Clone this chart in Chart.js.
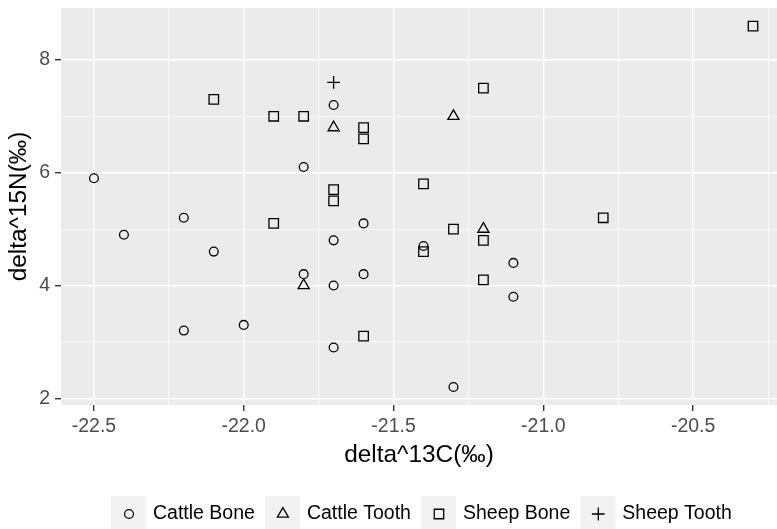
<!DOCTYPE html>
<html>
<head>
<meta charset="utf-8">
<script src="https://cdn.jsdelivr.net/npm/chart.js@4"></script>
<style>
  html, body { margin: 0; padding: 0; background: #fff; }
  #wrap { width: 777px; height: 529px; }
</style>
</head>
<body>
<div id="wrap"><canvas id="isoChart" width="777" height="529"></canvas></div>
<script>
// values
const cattleBoneX = [-22.5, -22.4, -22.2, -22.1, -22.2, -22.0, -21.8, -21.8, -21.7, -21.7, -21.7, -21.7, -21.6, -21.6, -21.4, -21.3, -21.1, -21.1];
const cattleBoneY = [5.9, 4.9, 5.2, 4.6, 3.2, 3.3, 6.1, 4.2, 7.2, 4.8, 4.0, 2.9, 5.1, 4.2, 4.7, 2.2, 4.4, 3.8];
const cattleToothX = [-21.7, -21.3, -21.2, -21.8];
const cattleToothY = [6.8, 7.0, 5.0, 4.0];
const sheepBoneX = [-22.1, -21.9, -21.8, -21.6, -21.6, -21.7, -21.7, -21.9, -21.4, -21.4, -21.3, -21.2, -21.2, -21.6, -20.8, -20.3, -21.2];
const sheepBoneY = [7.3, 7.0, 7.0, 6.8, 6.6, 5.7, 5.5, 5.1, 5.8, 4.6, 5.0, 4.8, 4.1, 3.1, 5.2, 8.6, 7.5];
const sheepToothX = [-21.7];
const sheepToothY = [7.6];

const groupNames = ['Cattle Bone', 'Cattle Tooth', 'Sheep Bone', 'Sheep Tooth'];

const xMajor = [-22.5, -22.0, -21.5, -21.0, -20.5];
const xMinor = [-22.25, -21.75, -21.25, -20.75, -20.25];
const yMajor = [2, 4, 6, 8];
const yMinor = [3, 5, 7];

const FONT = '"Liberation Sans", Arial, Helvetica, sans-serif';
const TEXT_SIZE = 19.5;
const TITLE_SIZE = 24.4;

function toPoints(xs, ys) {
    return xs.map((x, i) => ({ x: x, y: ys[i] }));
}

const shapes = [
    { style: 'circle', radius: 4.4 },
    { style: 'triangle', radius: 6.4 },
    { style: 'rect', radius: 6.7 },
    { style: 'cross', radius: 6.4 },
];

const seriesPoints = [
    toPoints(cattleBoneX, cattleBoneY),
    toPoints(cattleToothX, cattleToothY),
    toPoints(sheepBoneX, sheepBoneY),
    toPoints(sheepToothX, sheepToothY),
];

const datasets = groupNames.map((name, i) => ({
    label: name,
    data: seriesPoints[i],
    pointStyle: shapes[i].style,
    pointRadius: shapes[i].radius,
    pointHoverRadius: shapes[i].radius,
    pointBorderWidth: 1.3,
    pointBorderColor: '#000000',
    pointBackgroundColor: 'rgba(0,0,0,0)',
    showLine: false,
}));

function isMajor(list, v) {
    return list.some(m => Math.abs(m - v) < 1e-6);
}

function noPadding(axis) {
    axis.paddingTop = 0;
    axis.paddingBottom = 0;
    axis.paddingLeft = 0;
    axis.paddingRight = 0;
}

// grey panel behind the grid
const panelBg = {
    id: 'panelBg',
    beforeDraw(chart) {
        const { ctx, chartArea: a } = chart;
        ctx.save();
        ctx.fillStyle = '#EBEBEB';
        ctx.fillRect(a.left, a.top, a.right - a.left, a.bottom - a.top);
        ctx.restore();
    }
};

// ggplot style legend with grey key boxes
const keyLegend = {
    id: 'keyLegend',
    afterDraw(chart) {
        const ctx = chart.ctx;
        ctx.save();
        ctx.font = TEXT_SIZE + 'px ' + FONT;
        ctx.textBaseline = 'middle';
        const keySize = 36;
        const top = 496;
        const cy = top + keySize / 2;
        let x = 111;
        groupNames.forEach((name, i) => {
            ctx.fillStyle = '#F2F2F2';
            ctx.fillRect(x, top, keySize - 1, keySize);
            ctx.strokeStyle = '#000000';
            ctx.lineWidth = 1.3;
            Chart.helpers.drawPoint(ctx, { pointStyle: shapes[i].style, radius: shapes[i].radius, borderWidth: 1.3 }, x + keySize / 2, cy);
            ctx.fillStyle = '#000000';
            ctx.fillText(name, x + keySize + 6, cy);
            x += keySize + 6 + ctx.measureText(name).width + 10;
        });
        ctx.restore();
    }
};

const ctx = document.getElementById('isoChart').getContext('2d');
const isoChart = new Chart(ctx, {
    type: 'scatter',
    data: { datasets: datasets },
    plugins: [panelBg, keyLegend],
    options: {
        responsive: false,
        animation: false,
        devicePixelRatio: 1,
        layout: { autoPadding: false, padding: { left: 0, right: 0, top: 8, bottom: 56 } },
        plugins: {
            legend: { display: false },
            tooltip: { enabled: false },
        },
        scales: {
            x: {
                type: 'linear',
                min: -22.61,
                max: -20.22,
                afterBuildTicks(axis) {
                    axis.ticks = xMajor.concat(xMinor).sort((a, b) => a - b).map(v => ({ value: v }));
                },
                afterFit(axis) { axis.height = 68; noPadding(axis); },
                border: { display: false },
                grid: {
                    color: '#FFFFFF',
                    lineWidth: c => isMajor(xMajor, c.tick.value) ? 1.4 : 0.7,
                    tickColor: c => isMajor(xMajor, c.tick.value) ? '#333333' : 'rgba(0,0,0,0)',
                    tickWidth: 1.4,
                    tickLength: 6,
                },
                ticks: {
                    autoSkip: false,
                    maxRotation: 0,
                    padding: 4,
                    color: '#4D4D4D',
                    font: { family: FONT, size: TEXT_SIZE },
                    callback: v => isMajor(xMajor, v) ? v.toFixed(1) : '',
                },
                title: {
                    display: true,
                    text: 'delta^13C(‰)',
                    color: '#000000',
                    font: { family: FONT, size: TITLE_SIZE },
                    padding: { top: 0, bottom: 3 },
                },
            },
            y: {
                type: 'linear',
                min: 1.88,
                max: 8.92,
                afterBuildTicks(axis) {
                    axis.ticks = yMajor.concat(yMinor).sort((a, b) => a - b).map(v => ({ value: v }));
                },
                afterFit(axis) { axis.width = 61; noPadding(axis); },
                border: { display: false },
                grid: {
                    color: '#FFFFFF',
                    lineWidth: c => isMajor(yMajor, c.tick.value) ? 1.4 : 0.7,
                    tickColor: c => isMajor(yMajor, c.tick.value) ? '#333333' : 'rgba(0,0,0,0)',
                    tickWidth: 1.4,
                    tickLength: 6,
                },
                ticks: {
                    autoSkip: false,
                    padding: 5,
                    color: '#4D4D4D',
                    font: { family: FONT, size: TEXT_SIZE },
                    callback: v => isMajor(yMajor, v) ? String(v) : '',
                },
                title: {
                    display: true,
                    text: 'delta^15N(‰)',
                    color: '#000000',
                    font: { family: FONT, size: TITLE_SIZE },
                    padding: { top: 5, bottom: 0 },
                },
            },
        },
    },
});
</script>
</body>
</html>
